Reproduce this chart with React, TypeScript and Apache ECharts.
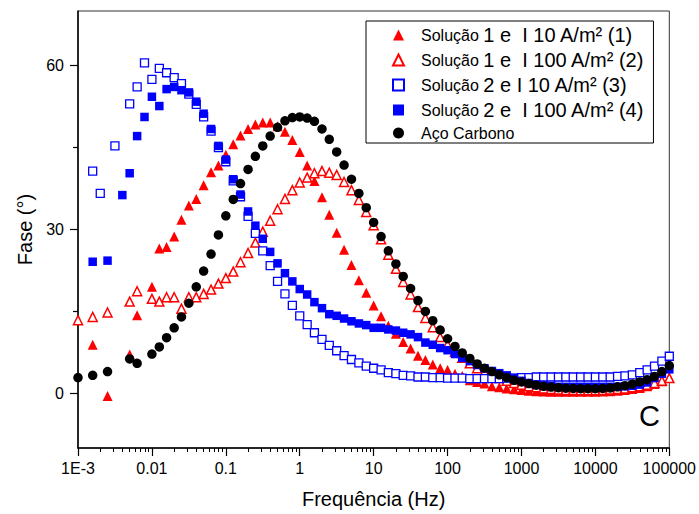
import { useEffect, useRef } from "react";
import * as echarts from "echarts";

// Frequencies (Hz) shared by the main part of every curve: 0.01 Hz .. 100 kHz
const FREQ = [
  0.01, 0.0126, 0.0158, 0.02, 0.0251, 0.0316, 0.0398, 0.0501, 0.0631, 0.0794,
  0.1, 0.126, 0.158, 0.2, 0.251, 0.316, 0.398, 0.501, 0.631, 0.794,
  1, 1.26, 1.58, 2, 2.51, 3.16, 3.98, 5.01, 6.31, 7.94,
  10, 12.6, 15.8, 20, 25.1, 31.6, 39.8, 50.1, 63.1, 79.4,
  100, 126, 158, 200, 251, 316, 398, 501, 631, 794,
  1000, 1259, 1585, 1995, 2512, 3162, 3981, 5012, 6310, 7943,
  10000, 12589, 15849, 19953, 25119, 31623, 39811, 50119, 63096, 79433,
  100000,
];

// Solução 1 e I 10 A/m² (1) — filled red triangles
const FREQ_LOW_S1_10 = [0.00158, 0.00251, 0.005, 0.00631];
const PHASE_LOW_S1_10 = [8.9, -0.5, 7.1, 14.3];
const PHASE_S1_10 = [
  19.5, 26.5, 26.8, 28.7, 31.8, 34.4, 35.6, 38.1, 40.5, 41.7,
  43.7, 45.6, 47.2, 48.4, 49.2, 49.6, 49.6, 48.9, 47.9, 46.4,
  44.2, 41.7, 38.9, 35.9, 32.7, 29.4, 26.3, 23.5, 20.7, 18.4,
  16.1, 14.1, 12.4, 10.9, 9.4, 8.2, 6.9, 6.1, 5.3, 4.6,
  4.3, 3.6, 3.2, 2.4, 2.1, 1.8, 1.3, 1.1, 0.9, 0.75,
  0.6, 0.5, 0.4, 0.35, 0.3, 0.3, 0.3, 0.3, 0.3, 0.3,
  0.3, 0.35, 0.4, 0.5, 0.6, 0.8, 1.0, 1.3, 1.7, 2.2,
  2.8,
];

// Solução 1 e I 100 A/m² (2) — open red triangles
const FREQ_LOW_S1_100 = [0.001, 0.00158, 0.00251, 0.005, 0.00631];
const PHASE_LOW_S1_100 = [13.4, 14.0, 14.8, 16.8, 18.7];
const PHASE_S1_100 = [
  17.3, 16.8, 17.6, 17.6, 15.5, 17.6, 17.6, 18.2, 19.0, 20.1,
  21.1, 22.3, 24.0, 25.7, 27.6, 29.6, 31.6, 33.7, 35.6, 37.2,
  38.6, 39.5, 40.3, 40.7, 40.4, 40.0, 38.7, 37.2, 35.4, 33.2,
  30.8, 28.2, 25.4, 22.8, 20.4, 18.1, 15.8, 13.8, 12.1, 10.3,
  8.9, 7.6, 6.5, 5.5, 4.6, 3.9, 3.3, 2.8, 2.3, 1.9,
  1.6, 1.3, 1.1, 0.9, 0.8, 0.7, 0.6, 0.6, 0.55, 0.55,
  0.55, 0.6, 0.7, 0.8, 0.9, 1.1, 1.3, 1.6, 1.9, 2.3,
  2.8,
];

// Solução 2 e I 10 A/m² (3) — open blue squares
const FREQ_LOW_S2_10 = [0.00158, 0.002, 0.00316, 0.005, 0.00631, 0.00794];
const PHASE_LOW_S2_10 = [40.7, 36.6, 45.3, 53.0, 56.1, 60.5];
const PHASE_S2_10 = [
  57.5, 59.5, 58.7, 57.8, 56.7, 54.8, 52.9, 50.6, 48.0, 45.0,
  42.4, 38.9, 36.0, 32.4, 29.3, 26.1, 23.4, 20.5, 18.2, 16.1,
  14.2, 12.6, 11.1, 9.9, 8.8, 7.8, 6.9, 6.2, 5.6, 5.0,
  4.6, 4.3, 3.8, 3.6, 3.3, 3.2, 3.0, 3.0, 2.9, 2.9,
  2.8, 2.8, 2.8, 2.7, 2.7, 2.7, 2.7, 2.7, 2.8, 2.8,
  2.9, 2.9, 3.0, 3.0, 3.0, 3.0, 3.0, 3.0, 3.0, 3.0,
  3.0, 3.0, 3.0, 3.1, 3.2, 3.4, 3.8, 4.3, 5.0, 5.9,
  6.8,
];

// Solução 2 e I 100 A/m² (4) — filled blue squares
const FREQ_LOW_S2_100 = [0.00158, 0.00251, 0.00398, 0.005, 0.00631, 0.00794];
const PHASE_LOW_S2_100 = [24.1, 24.3, 36.3, 40.3, 47.1, 50.6];
const PHASE_S2_100 = [
  54.3, 52.6, 55.7, 56.1, 55.5, 55.1, 53.4, 51.2, 48.4, 45.3,
  42.8, 39.2, 36.4, 33.3, 30.7, 28.3, 25.9, 23.8, 22.0, 20.5,
  19.1, 18.1, 16.7, 15.6, 14.5, 14.2, 13.7, 13.2, 12.8, 12.5,
  12.0, 12.0, 11.7, 11.5, 11.1, 10.8, 10.3, 9.3, 8.9, 8.3,
  7.9, 7.2, 6.5, 5.9, 5.2, 4.6, 4.1, 3.7, 3.3, 2.8,
  2.3, 1.9, 1.6, 1.4, 1.3, 1.2, 1.2, 1.2, 1.2, 1.2,
  1.2, 1.2, 1.2, 1.2, 1.3, 1.4, 1.6, 2.0, 2.8, 3.6,
  4.4,
];

// Aço Carbono — filled black circles
const FREQ_LOW_ACO = [0.001, 0.00158, 0.00251, 0.005, 0.00631];
const PHASE_LOW_ACO = [2.9, 3.3, 4.0, 6.3, 5.5];
const PHASE_ACO = [
  7.2, 8.5, 10.2, 12.0, 14.0, 16.5, 19.5, 22.4, 25.5, 29.0,
  32.5, 35.5, 38.4, 41.0, 43.4, 45.3, 47.1, 48.7, 49.9, 50.5,
  50.6, 50.4, 49.8, 48.4, 46.5, 44.2, 41.8, 39.2, 36.6, 34.0,
  31.3, 28.7, 26.1, 23.7, 21.4, 19.2, 17.0, 15.0, 13.3, 11.6,
  10.0, 8.6, 7.4, 6.4, 5.4, 4.6, 4.0, 3.4, 2.9, 2.4,
  2.1, 1.8, 1.5, 1.3, 1.15, 1.05, 0.95, 0.9, 0.85, 0.85,
  0.85, 0.9, 1.0, 1.2, 1.4, 1.7, 2.1, 2.5, 3.1, 4.0,
  5.1,
];

const NAMES = [
  "Solução 1 e  I 10 A/m² (1)",
  "Solução 1 e  I 100 A/m² (2)",
  "Solução 2 e I 10 A/m² (3)",
  "Solução 2 e  I 100 A/m² (4)",
  "Aço Carbono",
];

const Y_MAJOR = [0, 30, 60];
const Y_MINOR = [15, 45];

const FONT = "'Liberation Sans', Arial, Helvetica, sans-serif";
const RED = "#ff0000";
const BLUE = "#0000ff";

function pairs(lowF: number[], lowV: number[], v: number[]) {
  const out: number[][] = [];
  lowF.forEach((f, i) => out.push([f, lowV[i]]));
  FREQ.forEach((f, i) => out.push([f, v[i]]));
  return out;
}

function xLabel(v: number) {
  const e = Math.round(Math.log10(v));
  if (e === -3) return "1E-3";
  if (e < 0) return Math.pow(10, e).toFixed(-e);
  return String(Math.round(Math.pow(10, e)));
}

export default function App() {
  const ref = useRef<HTMLDivElement>(null);
  useEffect(() => {
    if (!ref.current) return;
    const chart = echarts.init(ref.current, undefined, { renderer: "svg" });
    const option: any = {
      animation: false,
      textStyle: { fontFamily: FONT },
      grid: {
        left: 78,
        right: 29,
        top: 11,
        bottom: 65,
        show: true,
        borderColor: "#333",
        borderWidth: 1,
        backgroundColor: "transparent",
      },
      legend: {
        orient: "vertical",
        left: 366,
        top: 21,
        itemWidth: 11,
        itemHeight: 11,
        itemGap: 5,
        padding: [4, 9, 2, 26],
        borderColor: "#000",
        borderWidth: 1,
        borderRadius: 0,
        backgroundColor: "#fff",
        selectedMode: false,
        data: NAMES,
        formatter: (name: string) => {
          if (name.startsWith("Solução ")) {
            return "{a|Solução }{b|" + name.slice(8) + "}";
          }
          return "{a|" + name + "}";
        },
        textStyle: {
          color: "#000",
          padding: [0, 0, 0, 12],
          rich: {
            a: { fontSize: 16, lineHeight: 20, fontFamily: FONT, color: "#000" },
            b: { fontSize: 20, lineHeight: 20, fontFamily: FONT, color: "#000" },
          },
        },
      },
      xAxis: [
        {
          type: "log",
          logBase: 10,
          min: 0.001,
          max: 100000,
          splitNumber: 8,
          position: "bottom",
          axisLine: { onZero: false, lineStyle: { color: "#000", width: 1.5 } },
          axisTick: { length: 8, lineStyle: { color: "#000", width: 1.2 } },
          minorTick: { show: true, splitNumber: 9, length: 4, lineStyle: { color: "#000", width: 1 } },
          axisLabel: { formatter: xLabel, fontSize: 16, color: "#000", margin: 12, fontFamily: FONT },
          splitLine: { show: false },
          minorSplitLine: { show: false },
          name: "Frequência (Hz)",
          nameLocation: "middle",
          nameGap: 41,
          nameTextStyle: { fontSize: 20, color: "#000", fontFamily: FONT },
        },
      ],
      yAxis: [
        {
          type: "value",
          min: -10,
          max: 70,
          position: "left",
          axisLine: { show: true, onZero: false, lineStyle: { color: "#000", width: 1.5 } },
          axisTick: { show: true, length: 8, customValues: Y_MAJOR, lineStyle: { color: "#000", width: 1.2 } },
          axisLabel: { customValues: Y_MAJOR, fontSize: 16, color: "#000", margin: 14, fontFamily: FONT },
          splitLine: { show: false },
          name: "Fase (°)",
          nameLocation: "middle",
          nameGap: 41,
          nameTextStyle: { fontSize: 20, color: "#000", fontFamily: FONT },
        },
        {
          type: "value",
          min: -10,
          max: 70,
          position: "left",
          axisLine: { show: false },
          axisTick: { show: true, length: 5, customValues: Y_MINOR, lineStyle: { color: "#000", width: 1.2 } },
          axisLabel: { show: false },
          splitLine: { show: false },
        },
      ],
      graphic: [
        {
          type: "text",
          x: 649.5,
          y: 416,
          style: {
            text: "C",
            fontSize: 29,
            fontFamily: FONT,
            fill: "#000",
            textAlign: "center",
            textVerticalAlign: "middle",
          },
          z: 100,
        },
      ],
      series: [
        {
          name: NAMES[0],
          type: "scatter",
          symbol: "triangle",
          symbolSize: 10,
          silent: true,
          itemStyle: { color: RED, opacity: 1 },
          data: pairs(FREQ_LOW_S1_10, PHASE_LOW_S1_10, PHASE_S1_10),
          z: 2,
        },
        {
          name: NAMES[1],
          type: "scatter",
          symbol: "triangle",
          symbolSize: 9,
          silent: true,
          itemStyle: { color: "#fff", borderColor: RED, borderWidth: 1.5, opacity: 1 },
          data: pairs(FREQ_LOW_S1_100, PHASE_LOW_S1_100, PHASE_S1_100),
          z: 3,
        },
        {
          name: NAMES[2],
          type: "scatter",
          symbol: "rect",
          symbolSize: 8,
          silent: true,
          itemStyle: { color: "#fff", borderColor: BLUE, borderWidth: 1.3, opacity: 1 },
          data: pairs(FREQ_LOW_S2_10, PHASE_LOW_S2_10, PHASE_S2_10),
          z: 4,
        },
        {
          name: NAMES[3],
          type: "scatter",
          symbol: "rect",
          symbolSize: 8.5,
          silent: true,
          itemStyle: { color: BLUE, opacity: 1 },
          data: pairs(FREQ_LOW_S2_100, PHASE_LOW_S2_100, PHASE_S2_100),
          z: 5,
        },
        {
          name: NAMES[4],
          type: "scatter",
          symbol: "circle",
          symbolSize: 9.5,
          silent: true,
          itemStyle: { color: "#000", opacity: 1 },
          data: pairs(FREQ_LOW_ACO, PHASE_LOW_ACO, PHASE_ACO),
          z: 6,
        },
      ],
    };
    chart.setOption(option);
    return () => chart.dispose();
  }, []);
  return (
    <div
      ref={ref}
      style={{ position: "absolute", left: 0, top: 0, width: 699, height: 514, background: "#fff" }}
    />
  );
}
